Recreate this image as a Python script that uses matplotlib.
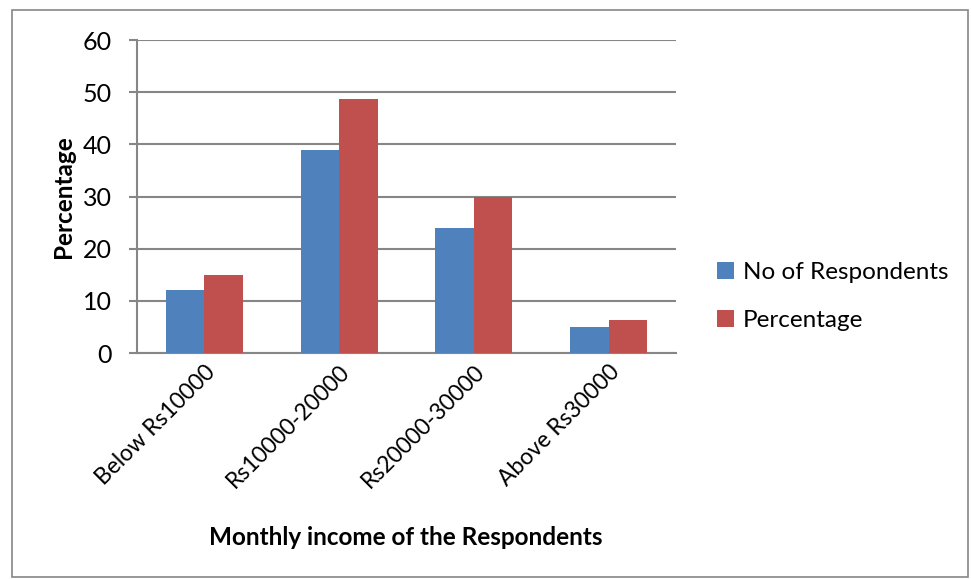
import numpy as np
import matplotlib
matplotlib.use('Agg')
import matplotlib.pyplot as plt
from matplotlib.patches import Rectangle

plt.rcParams['font.family'] = ['Lato', 'DejaVu Sans']

categories = ['Below Rs10000', 'Rs10000-20000', 'Rs20000-30000', 'Above Rs30000']
respondents = [12, 39, 24, 5]
percentage = [15, 48.75, 30, 6.25]
series_names = ['No of Respondents', 'Percentage']
colors = ['#4f81bd', '#c0504d']

fig = plt.figure(figsize=(9.71, 5.79), dpi=100)
ax = fig.add_axes([0.1411, 0.3903, 0.5551, 0.5406])

x = np.arange(len(categories))
w = 1 / 3.5
ax.bar(x - w / 2, respondents, w, color=colors[0], label=series_names[0], zorder=3)
ax.bar(x + w / 2, percentage, w, color=colors[1], label=series_names[1], zorder=3)

ax.set_xlim(-0.5, len(categories) - 0.5)
ax.set_ylim(0, 60)
ax.set_yticks(range(0, 61, 10))
ax.yaxis.grid(True, color='#868686', linewidth=1.5, zorder=0)
ax.set_xticks(x)
ax.set_xticklabels(categories, rotation=45, ha='right', va='top', rotation_mode='anchor')
ax.tick_params(axis='x', length=0, pad=6, labelsize=16.5)
ax.tick_params(axis='y', length=6, width=1.5, color='#868686', labelsize=18, pad=12)

for s in ['top', 'right']:
    ax.spines[s].set_visible(False)
for s in ['left', 'bottom']:
    ax.spines[s].set_color('#868686')
    ax.spines[s].set_linewidth(1.5)

ax.set_ylabel('Percentage', fontsize=17.5, fontweight='bold', labelpad=6)
fig.text(0.418, 0.072, 'Monthly income of the Respondents', fontsize=17.5,
         fontweight='bold', ha='center', va='center')

ax.legend(loc='center left', bbox_to_anchor=(1.036, 0.18), frameon=False,
          fontsize=17.5, handlelength=0.7, handleheight=0.7, handletextpad=0.35,
          labelspacing=1.1)

# outer chart border
fig.patches.append(Rectangle((0.0124, 0.003), 0.985, 0.98, transform=fig.transFigure,
                             fill=False, edgecolor='#868686', linewidth=1.2))

fig.savefig('out.png', dpi=100)
